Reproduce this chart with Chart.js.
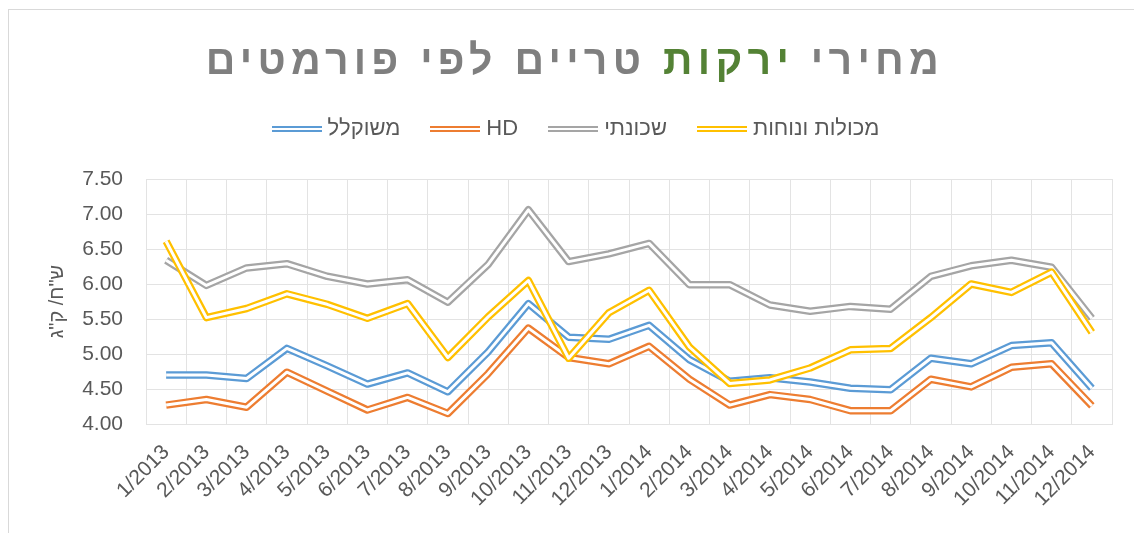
<!DOCTYPE html>
<html lang="he">
<head>
<meta charset="utf-8">
<script src="https://cdn.jsdelivr.net/npm/chart.js@4"></script>
<style>
  html, body { margin: 0; padding: 0; background: #fff; overflow: hidden; }
  #wrap { position: relative; width: 1134px; height: 533px; }
  #frame { position: absolute; left: 8px; top: 9px; width: 1140px; height: 540px; border: 1px solid #d9d9d9; }
  #title {
    position: absolute; left: 0; top: 37px; width: 1150px;
    text-align: center; direction: rtl;
    font: bold 41px "Liberation Sans", Arial, sans-serif;
    letter-spacing: 5.3px; color: #7f7f7f;
  }
  #title span { color: #548235; }
  canvas { position: absolute; left: 0; top: 0; }
</style>
</head>
<body>
<div id="wrap">
  <div id="frame"></div>
  <canvas id="prices" width="1134" height="533"></canvas>
  <div id="title">מחירי <span>ירקות</span> טריים לפי פורמטים</div>
</div>
<script>
const months = [
  "1/2013", "2/2013", "3/2013", "4/2013", "5/2013", "6/2013",
  "7/2013", "8/2013", "9/2013", "10/2013", "11/2013", "12/2013",
  "1/2014", "2/2014", "3/2014", "4/2014", "5/2014", "6/2014",
  "7/2014", "8/2014", "9/2014", "10/2014", "11/2014", "12/2014",
];

// מחיר ממוצע לק"ג לפי פורמט
const weighted = [4.70, 4.70, 4.65, 5.08, 4.83, 4.57, 4.73, 4.46, 5.03, 5.72, 5.24, 5.21,
                  5.41, 4.92, 4.61, 4.66, 4.60, 4.51, 4.49, 4.94, 4.86, 5.12, 5.16, 4.51];
const hd = [4.27, 4.35, 4.24, 4.74, 4.47, 4.20, 4.38, 4.15, 4.72, 5.37, 4.95, 4.86,
            5.11, 4.64, 4.27, 4.42, 4.35, 4.19, 4.19, 4.64, 4.53, 4.81, 4.86, 4.26];
const neighborhood = [6.34, 5.98, 6.23, 6.29, 6.11, 6.00, 6.06, 5.74, 6.28, 7.06, 6.32, 6.43,
                      6.58, 5.99, 5.99, 5.70, 5.61, 5.68, 5.64, 6.11, 6.26, 6.34, 6.24, 5.51];
const convenience = [6.61, 5.52, 5.65, 5.86, 5.71, 5.51, 5.72, 4.95, 5.53, 6.05, 4.94, 5.59,
                     5.91, 5.10, 4.58, 4.63, 4.80, 5.06, 5.08, 5.52, 6.00, 5.88, 6.17, 5.31];

const yTicks = { min: 4, max: 7.5, step: 0.5 };

const textGrey = "#595959";
const gridGrey = "#e3e3e3";

Chart.defaults.font.family = '"Liberation Sans", Arial, sans-serif';

// legend swatch: two thin parallel stripes
function stripeIcon(color) {
  const c = document.createElement("canvas");
  c.width = 50;
  c.height = 6;
  const g = c.getContext("2d");
  g.fillStyle = color;
  g.fillRect(0, 0, 50, 2);
  g.fillRect(0, 4, 50, 2);
  return c;
}

// hollow out the middle of each line so it reads as a double line
const doubleLine = {
  id: "doubleLine",
  afterDatasetDraw(chart, args) {
    const pts = args.meta.data;
    const ctx = chart.ctx;
    ctx.save();
    ctx.beginPath();
    pts.forEach((p, i) => (i ? ctx.lineTo(p.x, p.y) : ctx.moveTo(p.x, p.y)));
    ctx.lineWidth = 3;
    ctx.lineJoin = "round";
    ctx.strokeStyle = "#fff";
    ctx.stroke();
    ctx.restore();
  },
};

// extra room between the legend and the plot, legend nudged right
const legendGap = {
  id: "legendGap",
  beforeInit(chart) {
    const fit = chart.legend.fit;
    chart.legend.fit = function () {
      fit.call(this);
      this.height += 29;
    };
  },
  afterLayout(chart) {
    chart.legend.left += 16;
    chart.legend.right += 16;
  },
};

const series = [
  { label: "משוקלל", data: weighted, color: "#5B9BD5" },
  { label: "HD", data: hd, color: "#ED7D31" },
  { label: "שכונתי", data: neighborhood, color: "#A5A5A5" },
  { label: "מכולות ונוחות", data: convenience, color: "#FFC000" },
];

new Chart(document.getElementById("prices"), {
  type: "line",
  data: {
    labels: months,
    datasets: series.map((s, i) => ({
      label: s.label,
      data: s.data,
      borderColor: s.color,
      backgroundColor: s.color,
      pointStyle: stripeIcon(s.color),
      order: series.length - i,
    })),
  },
  options: {
    responsive: false,
    animation: false,
    layout: { padding: { top: 83, left: 12, right: 22, bottom: 0 } },
    elements: {
      line: { borderWidth: 7.5, tension: 0, borderJoinStyle: "round", fill: false },
      point: { radius: 0, hoverRadius: 0 },
    },
    plugins: {
      legend: {
        position: "top",
        labels: {
          usePointStyle: true,
          pointStyleWidth: 40,
          padding: 35,
          color: textGrey,
          font: { size: 22 },
          sort: (a, b) => a.datasetIndex - b.datasetIndex,
        },
      },
      tooltip: { enabled: false },
    },
    scales: {
      x: {
        offset: true,
        grid: { offset: true, color: gridGrey, drawTicks: false },
        border: { color: gridGrey },
        ticks: {
          autoSkip: false,
          minRotation: 45,
          maxRotation: 45,
          padding: 16,
          color: textGrey,
          font: { size: 21 },
        },
        afterFit(scale) {
          scale.height = 109;
        },
      },
      y: {
        min: yTicks.min,
        max: yTicks.max,
        grid: { color: gridGrey, drawTicks: false },
        border: { color: gridGrey },
        ticks: {
          stepSize: yTicks.step,
          padding: 23,
          color: textGrey,
          font: { size: 21 },
          callback: (v) => v.toFixed(2),
        },
        title: {
          display: true,
          text: 'ש"ח/ ק"ג',
          color: textGrey,
          font: { size: 20 },
          padding: { top: 33, bottom: 0 },
        },
        afterFit(scale) {
          scale.width = 134;
        },
      },
    },
  },
  plugins: [doubleLine, legendGap],
});
</script>
</body>
</html>
